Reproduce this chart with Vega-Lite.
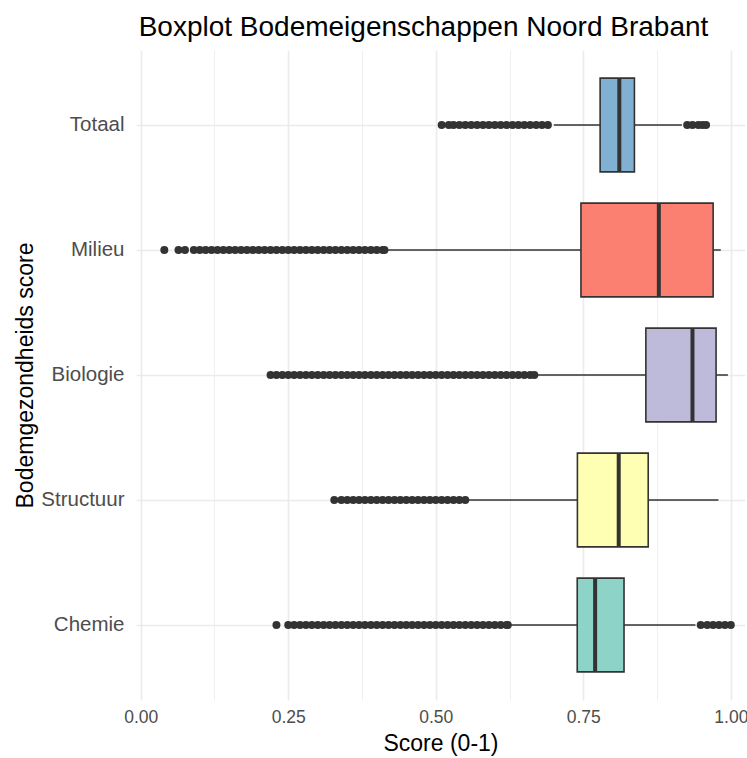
{
  "$schema": "https://vega.github.io/schema/vega-lite/v6.json",
  "width": 609,
  "height": 650,
  "autosize": "none",
  "padding": {"left": 136, "top": 50, "right": 2, "bottom": 58},
  "background": "white",
  "config": {
    "view": {"stroke": null},
    "font": "Liberation Sans"
  },
  "title": {
    "text": "Boxplot Bodemeigenschappen Noord Brabant",
    "fontSize": 28,
    "fontWeight": "normal",
    "color": "#000000",
    "anchor": "middle",
    "dx": -17,
    "offset": 8
  },
  "datasets": {
    "boxes": [
      {"cat": "Totaal", "lo": 0.70, "q1": 0.7785, "med": 0.811, "q3": 0.8366, "hi": 0.917},
      {"cat": "Milieu", "lo": 0.416, "q1": 0.746, "med": 0.878, "q3": 0.970, "hi": 0.983},
      {"cat": "Biologie", "lo": 0.668, "q1": 0.856, "med": 0.935, "q3": 0.975, "hi": 0.995},
      {"cat": "Structuur", "lo": 0.552, "q1": 0.740, "med": 0.810, "q3": 0.860, "hi": 0.979},
      {"cat": "Chemie", "lo": 0.623, "q1": 0.7397, "med": 0.770, "q3": 0.819, "hi": 0.940}
    ],
    "outliers": [
      {"c": "Totaal", "v": 0.51}, {"c": "Totaal", "v": 0.522}, {"c": "Totaal", "v": 0.53}, {"c": "Totaal", "v": 0.54}, {"c": "Totaal", "v": 0.55}, {"c": "Totaal", "v": 0.56}, {"c": "Totaal", "v": 0.57}, {"c": "Totaal", "v": 0.58}, {"c": "Totaal", "v": 0.59}, {"c": "Totaal", "v": 0.60}, {"c": "Totaal", "v": 0.61}, {"c": "Totaal", "v": 0.62}, {"c": "Totaal", "v": 0.63}, {"c": "Totaal", "v": 0.64}, {"c": "Totaal", "v": 0.65}, {"c": "Totaal", "v": 0.66}, {"c": "Totaal", "v": 0.67}, {"c": "Totaal", "v": 0.68}, {"c": "Totaal", "v": 0.69},
      {"c": "Totaal", "v": 0.926}, {"c": "Totaal", "v": 0.935}, {"c": "Totaal", "v": 0.945}, {"c": "Totaal", "v": 0.952}, {"c": "Totaal", "v": 0.958},
      {"c": "Milieu", "v": 0.04}, {"c": "Milieu", "v": 0.064}, {"c": "Milieu", "v": 0.075}, {"c": "Milieu", "v": 0.09}, {"c": "Milieu", "v": 0.10}, {"c": "Milieu", "v": 0.11}, {"c": "Milieu", "v": 0.12}, {"c": "Milieu", "v": 0.13}, {"c": "Milieu", "v": 0.14}, {"c": "Milieu", "v": 0.15}, {"c": "Milieu", "v": 0.16}, {"c": "Milieu", "v": 0.17}, {"c": "Milieu", "v": 0.18}, {"c": "Milieu", "v": 0.19}, {"c": "Milieu", "v": 0.20}, {"c": "Milieu", "v": 0.21}, {"c": "Milieu", "v": 0.22}, {"c": "Milieu", "v": 0.23}, {"c": "Milieu", "v": 0.24}, {"c": "Milieu", "v": 0.25}, {"c": "Milieu", "v": 0.26}, {"c": "Milieu", "v": 0.27}, {"c": "Milieu", "v": 0.28}, {"c": "Milieu", "v": 0.29}, {"c": "Milieu", "v": 0.30}, {"c": "Milieu", "v": 0.31}, {"c": "Milieu", "v": 0.32}, {"c": "Milieu", "v": 0.33}, {"c": "Milieu", "v": 0.34}, {"c": "Milieu", "v": 0.35}, {"c": "Milieu", "v": 0.36}, {"c": "Milieu", "v": 0.37}, {"c": "Milieu", "v": 0.38}, {"c": "Milieu", "v": 0.39}, {"c": "Milieu", "v": 0.40}, {"c": "Milieu", "v": 0.41}, {"c": "Milieu", "v": 0.413},
      {"c": "Biologie", "v": 0.22}, {"c": "Biologie", "v": 0.23}, {"c": "Biologie", "v": 0.24}, {"c": "Biologie", "v": 0.25}, {"c": "Biologie", "v": 0.26}, {"c": "Biologie", "v": 0.27}, {"c": "Biologie", "v": 0.28}, {"c": "Biologie", "v": 0.29}, {"c": "Biologie", "v": 0.30}, {"c": "Biologie", "v": 0.31}, {"c": "Biologie", "v": 0.32}, {"c": "Biologie", "v": 0.33}, {"c": "Biologie", "v": 0.34}, {"c": "Biologie", "v": 0.35}, {"c": "Biologie", "v": 0.36}, {"c": "Biologie", "v": 0.37}, {"c": "Biologie", "v": 0.38}, {"c": "Biologie", "v": 0.39}, {"c": "Biologie", "v": 0.40}, {"c": "Biologie", "v": 0.41}, {"c": "Biologie", "v": 0.42}, {"c": "Biologie", "v": 0.43}, {"c": "Biologie", "v": 0.44}, {"c": "Biologie", "v": 0.45}, {"c": "Biologie", "v": 0.46}, {"c": "Biologie", "v": 0.47}, {"c": "Biologie", "v": 0.48}, {"c": "Biologie", "v": 0.49}, {"c": "Biologie", "v": 0.50}, {"c": "Biologie", "v": 0.51}, {"c": "Biologie", "v": 0.52}, {"c": "Biologie", "v": 0.53}, {"c": "Biologie", "v": 0.54}, {"c": "Biologie", "v": 0.55}, {"c": "Biologie", "v": 0.56}, {"c": "Biologie", "v": 0.57}, {"c": "Biologie", "v": 0.58}, {"c": "Biologie", "v": 0.59}, {"c": "Biologie", "v": 0.60}, {"c": "Biologie", "v": 0.61}, {"c": "Biologie", "v": 0.62}, {"c": "Biologie", "v": 0.63}, {"c": "Biologie", "v": 0.64}, {"c": "Biologie", "v": 0.65}, {"c": "Biologie", "v": 0.66}, {"c": "Biologie", "v": 0.667},
      {"c": "Structuur", "v": 0.328}, {"c": "Structuur", "v": 0.34}, {"c": "Structuur", "v": 0.35}, {"c": "Structuur", "v": 0.36}, {"c": "Structuur", "v": 0.37}, {"c": "Structuur", "v": 0.38}, {"c": "Structuur", "v": 0.39}, {"c": "Structuur", "v": 0.40}, {"c": "Structuur", "v": 0.41}, {"c": "Structuur", "v": 0.42}, {"c": "Structuur", "v": 0.43}, {"c": "Structuur", "v": 0.44}, {"c": "Structuur", "v": 0.45}, {"c": "Structuur", "v": 0.46}, {"c": "Structuur", "v": 0.47}, {"c": "Structuur", "v": 0.48}, {"c": "Structuur", "v": 0.49}, {"c": "Structuur", "v": 0.50}, {"c": "Structuur", "v": 0.51}, {"c": "Structuur", "v": 0.52}, {"c": "Structuur", "v": 0.53}, {"c": "Structuur", "v": 0.54}, {"c": "Structuur", "v": 0.55},
      {"c": "Chemie", "v": 0.23}, {"c": "Chemie", "v": 0.25}, {"c": "Chemie", "v": 0.26}, {"c": "Chemie", "v": 0.27}, {"c": "Chemie", "v": 0.28}, {"c": "Chemie", "v": 0.29}, {"c": "Chemie", "v": 0.30}, {"c": "Chemie", "v": 0.31}, {"c": "Chemie", "v": 0.32}, {"c": "Chemie", "v": 0.33}, {"c": "Chemie", "v": 0.34}, {"c": "Chemie", "v": 0.35}, {"c": "Chemie", "v": 0.36}, {"c": "Chemie", "v": 0.37}, {"c": "Chemie", "v": 0.38}, {"c": "Chemie", "v": 0.39}, {"c": "Chemie", "v": 0.40}, {"c": "Chemie", "v": 0.41}, {"c": "Chemie", "v": 0.42}, {"c": "Chemie", "v": 0.43}, {"c": "Chemie", "v": 0.44}, {"c": "Chemie", "v": 0.45}, {"c": "Chemie", "v": 0.46}, {"c": "Chemie", "v": 0.47}, {"c": "Chemie", "v": 0.48}, {"c": "Chemie", "v": 0.49}, {"c": "Chemie", "v": 0.50}, {"c": "Chemie", "v": 0.51}, {"c": "Chemie", "v": 0.52}, {"c": "Chemie", "v": 0.53}, {"c": "Chemie", "v": 0.54}, {"c": "Chemie", "v": 0.55}, {"c": "Chemie", "v": 0.56}, {"c": "Chemie", "v": 0.57}, {"c": "Chemie", "v": 0.58}, {"c": "Chemie", "v": 0.59}, {"c": "Chemie", "v": 0.60}, {"c": "Chemie", "v": 0.61}, {"c": "Chemie", "v": 0.62}, {"c": "Chemie", "v": 0.622},
      {"c": "Chemie", "v": 0.949}, {"c": "Chemie", "v": 0.96}, {"c": "Chemie", "v": 0.97}, {"c": "Chemie", "v": 0.98}, {"c": "Chemie", "v": 0.99}, {"c": "Chemie", "v": 1.0}
    ]
  },
  "layer": [
    {
      "data": {"name": "boxes"},
      "mark": {"type": "rule", "color": "#333333", "strokeWidth": 1.6},
      "encoding": {
        "x": {
          "field": "lo", "type": "quantitative",
          "scale": {"domain": [-0.008, 1.024], "nice": false, "zero": false},
          "axis": {
            "values": [0, 0.125, 0.25, 0.375, 0.5, 0.625, 0.75, 0.875, 1],
            "labelExpr": "(datum.value*8) % 2 == 0 ? format(datum.value, '.2f') : ''",
            "grid": true,
            "gridColor": "#EBEBEB",
            "gridWidth": {"condition": {"test": "(datum.value*8) % 2 != 0", "value": 0.8}, "value": 1.6},
            "domain": false,
            "ticks": false,
            "labelFontSize": 17.5,
            "labelColor": "#4D4D4D",
            "labelPadding": 8,
            "title": "Score (0-1)",
            "titleFontSize": 23,
            "titleFontWeight": "normal",
            "titleColor": "#000000",
            "titlePadding": 7
          }
        },
        "x2": {"field": "hi"},
        "y": {
          "field": "cat", "type": "nominal",
          "scale": {"domain": ["Totaal", "Milieu", "Biologie", "Structuur", "Chemie"], "paddingInner": 0.25, "paddingOuter": 0.225},
          "axis": {
            "bandPosition": 0.5,
            "grid": true,
            "gridColor": "#EBEBEB",
            "gridWidth": 1.6,
            "domain": false,
            "ticks": false,
            "labelFontSize": 20.5,
            "labelColor": "#4D4D4D",
            "labelPadding": 12,
            "title": "Bodemgezondheids score",
            "titleFontSize": 23,
            "titleFontWeight": "normal",
            "titleColor": "#000000",
            "titlePadding": 3
          }
        }
      }
    },
    {
      "data": {"name": "boxes"},
      "mark": {"type": "bar", "stroke": "#333333", "strokeWidth": 1.6},
      "encoding": {
        "x": {"field": "q1", "type": "quantitative"},
        "x2": {"field": "q3"},
        "y": {"field": "cat", "type": "nominal"},
        "fill": {
          "field": "cat", "type": "nominal",
          "scale": {"domain": ["Totaal", "Milieu", "Biologie", "Structuur", "Chemie"], "range": ["#80B1D3", "#FB8072", "#BEBADA", "#FFFFB3", "#8DD3C7"]},
          "legend": null
        }
      }
    },
    {
      "data": {"name": "boxes"},
      "mark": {"type": "tick", "color": "#333333", "thickness": 4, "size": 93, "opacity": 1},
      "encoding": {
        "x": {"field": "med", "type": "quantitative"},
        "y": {"field": "cat", "type": "nominal"}
      }
    },
    {
      "data": {"name": "outliers"},
      "mark": {"type": "point", "filled": true, "color": "#333333", "opacity": 1, "size": 64},
      "encoding": {
        "x": {"field": "v", "type": "quantitative"},
        "y": {"field": "c", "type": "nominal"}
      }
    }
  ]
}
